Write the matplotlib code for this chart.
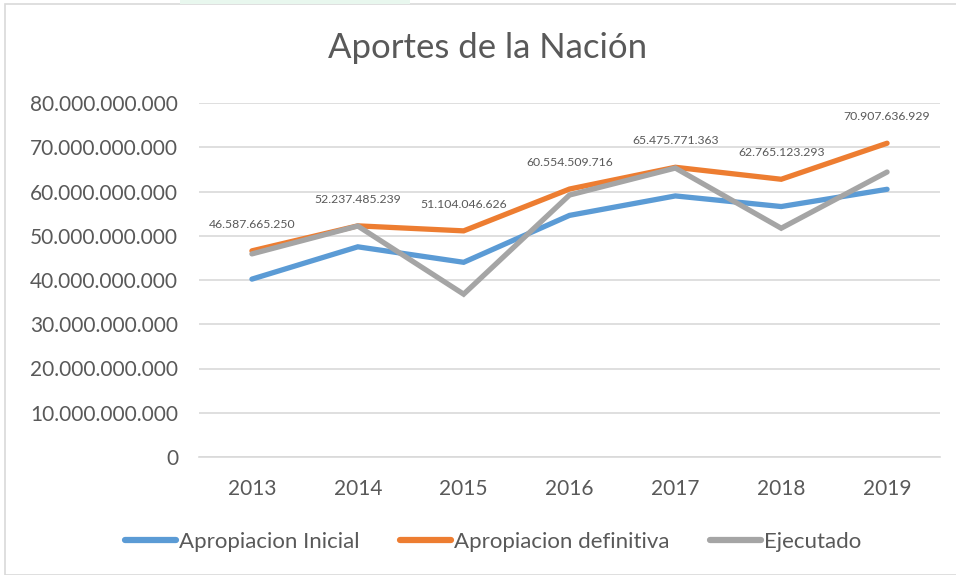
import matplotlib
matplotlib.use("Agg")
import matplotlib.pyplot as plt
from matplotlib.patches import Rectangle
from matplotlib.ticker import FuncFormatter

plt.rcParams['font.family'] = ['Lato', 'DejaVu Sans']

years = ["2013", "2014", "2015", "2016", "2017", "2018", "2019"]
inicial = [40.2e9, 47.5e9, 44.0e9, 54.6e9, 59.0e9, 56.6e9, 60.5e9]
definitiva = [46587665250, 52237485239, 51104046626, 60554509716,
              65475771363, 62765123293, 70907636929]
ejecutado = [45.9e9, 52.2e9, 36.8e9, 59.2e9, 65.3e9, 51.7e9, 64.4e9]
series_names = ["Apropiacion Inicial", "Apropiacion definitiva", "Ejecutado"]
title = "Aportes de la Nación"

W, H = 956, 575
fig = plt.figure(figsize=(W / 100, H / 100), dpi=100)
txt = '#595959'

# chart border
fig.patches.append(Rectangle((5 / W, 0), 1.2, (H - 4) / H, transform=fig.transFigure,
                             fill=False, edgecolor='#D9D9D9', linewidth=1.2))
fig.patches.append(Rectangle((180 / W, (H - 4) / H), 230 / W, 4 / H, transform=fig.transFigure,
                             facecolor='#E8F7EE', edgecolor='none'))

ax = fig.add_axes([199 / W, (H - 457) / H, (940 - 199) / W, (457 - 103) / H])
x = list(range(len(years)))
colors = ['#5B9BD5', '#ED7D31', '#A5A5A5']
for vals, c, name in zip([inicial, definitiva, ejecutado], colors, series_names):
    ax.plot(x, vals, color=c, linewidth=3.8, solid_capstyle='round',
            solid_joinstyle='miter', label=name)

for xi, v in zip(x, definitiva):
    s = f"{v:,}".replace(",", ".")
    ax.annotate(s, (xi, v), xytext=(0, 19), textcoords='offset points',
                ha='center', va='center', fontsize=8.8, color=txt)

ax.set_xlim(-0.5, len(years) - 0.5)
ax.set_ylim(0, 80e9)
ax.set_yticks([i * 10e9 for i in range(9)])
ax.yaxis.set_major_formatter(FuncFormatter(lambda v, p: f"{int(v):,}".replace(",", ".")))
ax.set_xticks(x)
ax.set_xticklabels(years)
ax.grid(axis='y', color='#D9D9D9', linewidth=1.2)
ax.set_axisbelow(True)
for sp in ['top', 'right', 'left']:
    ax.spines[sp].set_visible(False)
ax.spines['bottom'].set_color('#D9D9D9')
ax.spines['bottom'].set_linewidth(1.2)
ax.tick_params(axis='both', length=0, labelsize=15, colors=txt)
ax.tick_params(axis='y', pad=15)
ax.tick_params(axis='x', pad=16)

fig.text(488 / W, 1 - 48 / H, title, ha='center', va='center', fontsize=25, color=txt)

leg = fig.legend(loc='center', bbox_to_anchor=(493 / W, 1 - 542 / H), ncol=3,
                 frameon=False, fontsize=16, labelcolor=txt, handlelength=2.3,
                 handletextpad=0.15, columnspacing=1.8)
for h in leg.legend_handles:
    h.set_linewidth(4.5)
    h.set_solid_capstyle('round')

fig.savefig("out.png", dpi=100)
